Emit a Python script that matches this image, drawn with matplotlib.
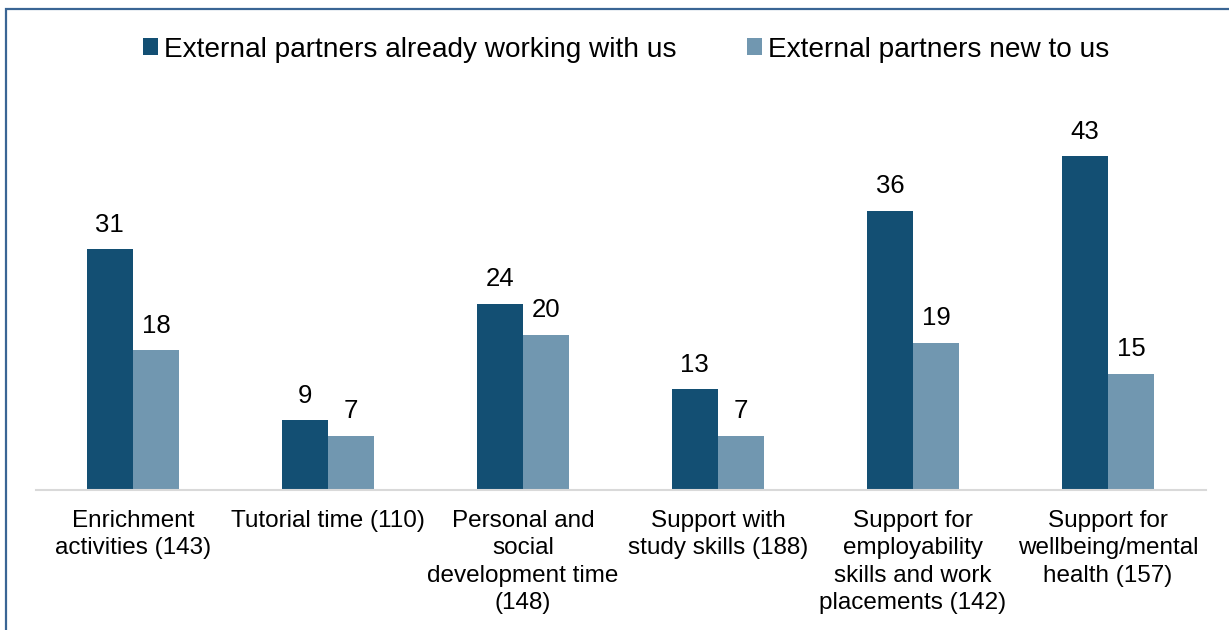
import matplotlib
matplotlib.use("Agg")
import matplotlib.pyplot as plt
import numpy as np
from matplotlib.patches import Rectangle

plt.rcParams['font.family'] = ['Liberation Sans', 'DejaVu Sans']

categories = ["Enrichment\nactivities (143)", "Tutorial time (110)",
              "Personal and\nsocial\ndevelopment time\n(148)",
              "Support with\nstudy skills (188)",
              "Support for\nemployability\nskills and work\nplacements (142)",
              "Support for\nwellbeing/mental\nhealth (157)"]
already = [31, 9, 24, 13, 36, 43]
new_to_us = [18, 7, 20, 7, 19, 15]
series_names = ["External partners already working with us", "External partners new to us"]

dark = "#134F73"
light = "#7197B0"

fig = plt.figure(figsize=(12.29, 6.3), dpi=100)
ax = fig.add_axes([0.0289, 0.2222, 0.952, 0.616])

x = np.arange(len(categories))
w = 0.238
b1 = ax.bar(x - w / 2, already, w, color=dark, label=series_names[0])
b2 = ax.bar(x + w / 2, new_to_us, w, color=light, label=series_names[1])

# value labels above each bar
for bars, vals in ((b1, already), (b2, new_to_us)):
    for r, v in zip(bars, vals):
        ax.annotate(str(v), (r.get_x() + r.get_width() / 2, v), xytext=(0, 9),
                    textcoords="offset points", ha="center", va="bottom", fontsize=18.5)

ax.set_xlim(-0.5, len(categories) - 0.5)
ax.set_ylim(0, 50)
ax.set_xticks(x)
ax.set_xticklabels(categories, fontsize=17.5, linespacing=1.31, va="top")
ax.tick_params(axis="x", length=0, pad=14.5)
ax.set_yticks([])
for s in ["top", "right", "left"]:
    ax.spines[s].set_visible(False)
ax.spines["bottom"].set_color("#D9D9D9")
ax.spines["bottom"].set_linewidth(1.5)

leg = fig.legend(loc="center", bbox_to_anchor=(0.5095, 0.921), ncol=2, frameon=False,
                 fontsize=20.2, handlelength=0.55, handleheight=0.55, handletextpad=0.22,
                 columnspacing=2.5)

# outer frame, cut off at the right and bottom edges
fig.add_artist(Rectangle((6 / 1229, -0.05), 1.1, 1 - 9 / 630 + 0.05, transform=fig.transFigure,
                         fill=False, edgecolor="#3A6594", linewidth=1.6, clip_on=False))

fig.savefig("out.png", dpi=100)
